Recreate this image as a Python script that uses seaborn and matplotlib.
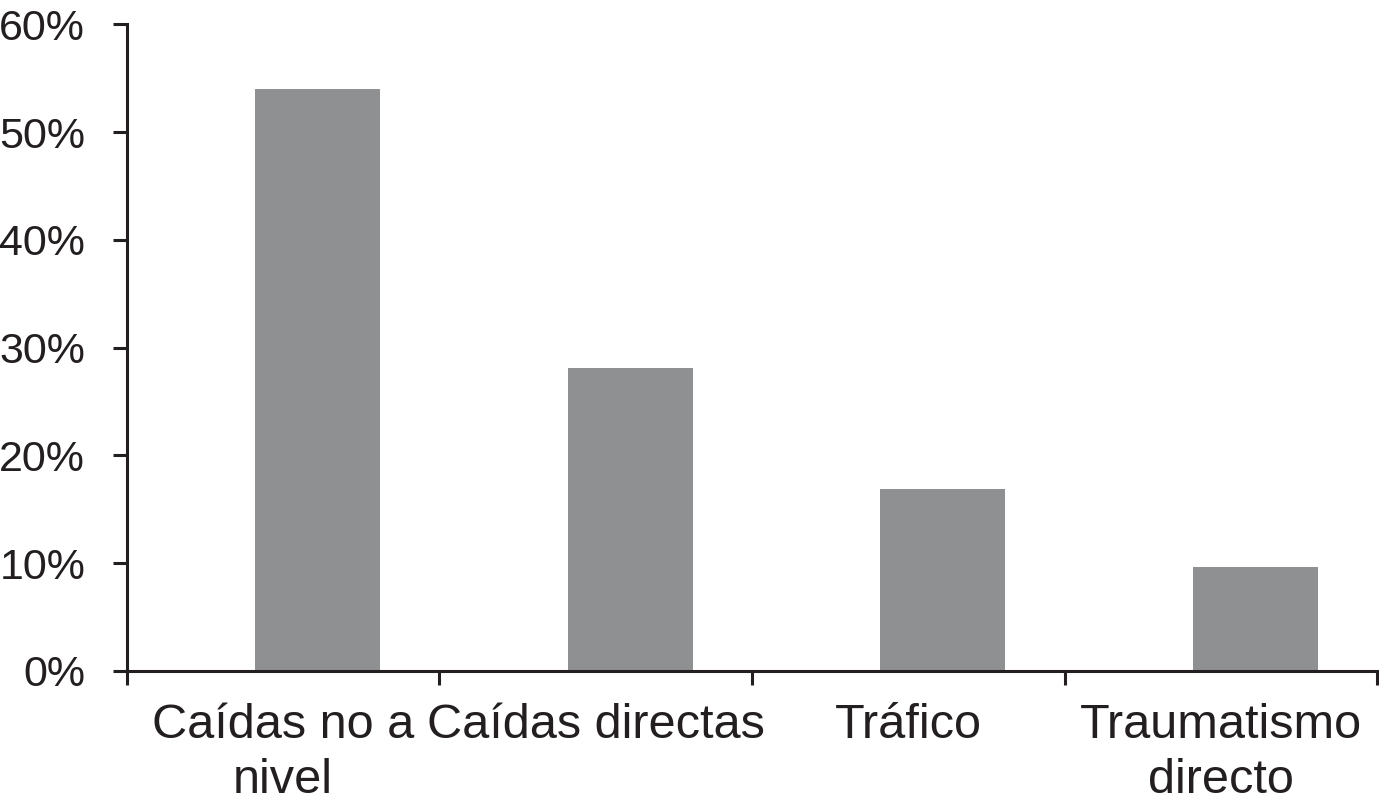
import numpy as np
import pandas as pd
import seaborn as sns
import matplotlib.pyplot as plt
from matplotlib.ticker import PercentFormatter, FixedLocator

categories = ["Caídas no a\nnivel", "Caídas directas", "Tráfico", "Traumatismo\ndirecto"]
values = [54.0, 28.1, 16.9, 9.6]
y_ticks = [0, 10, 20, 30, 40, 50, 60]

df = pd.DataFrame({"causa": categories, "pct": values})

sns.set_style("white")
plt.rcParams["font.family"] = ["Liberation Sans", "DejaVu Sans"]

fig = plt.figure(figsize=(13.79, 8.08), dpi=100)
ax = fig.add_axes([0.092, 0.1696, 0.9066, 0.8004])

sns.barplot(data=df, x="causa", y="pct", color="#8f9092", saturation=1,
            width=0.4, ax=ax)

# bars sit right of the category centre in the original
for p in ax.patches:
    p.set_x(p.get_x() + 0.11)
    p.set_edgecolor("none")

ax.set_xlim(-0.5, 3.5)
ax.set_ylim(0, 60)
ax.set_yticks(y_ticks)
ax.yaxis.set_major_formatter(PercentFormatter(decimals=0))
ax.set_xlabel("")
ax.set_ylabel("")

ax.xaxis.set_minor_locator(FixedLocator(np.arange(-0.5, 4, 1)))
ax.tick_params(axis="x", which="major", length=0, pad=23, labelsize=35,
               labelcolor="#231f20")
ax.tick_params(axis="x", which="minor", length=10, width=2.2, color="#231f20",
               direction="out", bottom=True)
ax.tick_params(axis="y", length=10, width=2.2, color="#231f20", pad=20,
               labelsize=31, labelcolor="#231f20", left=True)
for lbl in ax.get_xticklabels():
    lbl.set_linespacing(1.3)

for side in ["top", "right"]:
    ax.spines[side].set_visible(False)
for side in ["left", "bottom"]:
    ax.spines[side].set_linewidth(2.2)
    ax.spines[side].set_color("#231f20")

fig.savefig("out.png", dpi=100)
